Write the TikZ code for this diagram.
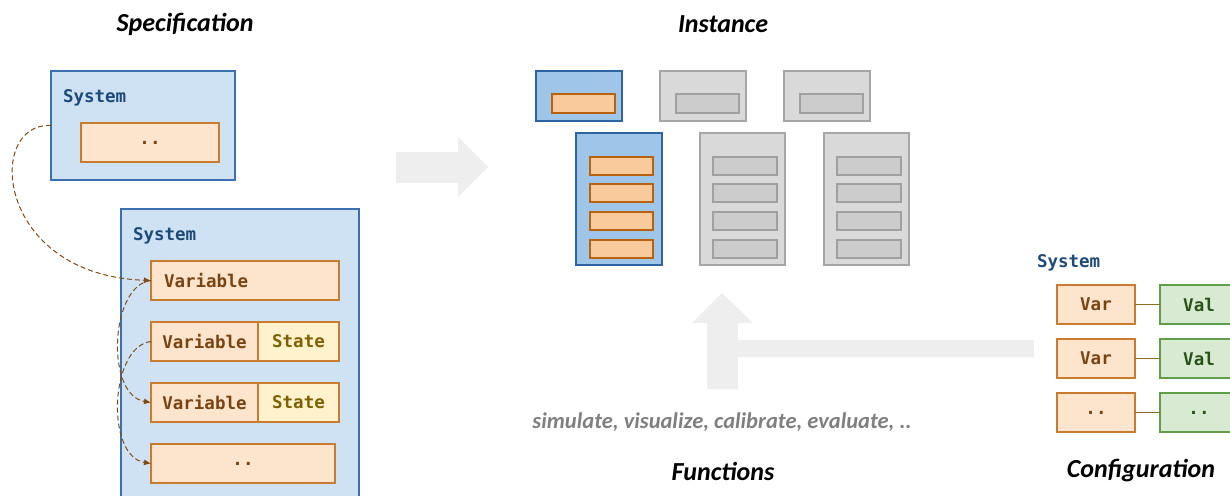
\documentclass[tikz,border=0pt]{standalone}
\usepackage{fontspec}
\setmainfont{Carlito}
\setmonofont{DejaVu Sans Mono}
\usetikzlibrary{arrows.meta}
\definecolor{sysfill}{HTML}{CFE2F3}
\definecolor{sysborder}{HTML}{3A6FB0}
\definecolor{varfill}{HTML}{FCE4CD}
\definecolor{varborder}{HTML}{C97B2E}
\definecolor{statefill}{HTML}{FFF2CC}
\definecolor{valfill}{HTML}{D9EAD3}
\definecolor{valborder}{HTML}{619E4A}
\definecolor{iblue}{HTML}{9FC5E8}
\definecolor{iblueborder}{HTML}{2F64A2}
\definecolor{iorange}{HTML}{F9CB9C}
\definecolor{iorangeborder}{HTML}{B8620F}
\definecolor{igray}{HTML}{D9D9D9}
\definecolor{igrayborder}{HTML}{A6A6A6}
\definecolor{igrayin}{HTML}{CCCCCC}
\definecolor{igrayinborder}{HTML}{A0A0A0}
\definecolor{arrowgray}{HTML}{EEEEEE}
\definecolor{systext}{HTML}{1C4A7A}
\definecolor{vartext}{HTML}{7A4412}
\definecolor{statetext}{HTML}{7F6000}
\definecolor{valtext}{HTML}{2A5218}
\definecolor{dashbrown}{HTML}{7F4B17}
\definecolor{linkcol}{HTML}{8C6D1F}
\definecolor{subgray}{HTML}{7F7F7F}
\newcommand{\monofont}{\ttfamily\bfseries\fontsize{17.5}{20}\selectfont}
\begin{document}
\begin{tikzpicture}[x=1pt,y=-1pt,
  every node/.style={inner sep=0pt, outer sep=0pt},
  bx/.style={line width=1.2pt},
  sysbox/.style={bx, fill=sysfill, draw=sysborder},
  varbox/.style={bx, fill=varfill, draw=varborder, text=vartext, font=\monofont},
  statebox/.style={bx, fill=statefill, draw=varborder, text=statetext, font=\monofont},
  valbox/.style={bx, fill=valfill, draw=valborder, text=valtext, font=\monofont},
  iblueb/.style={bx, fill=iblue, draw=iblueborder},
  iorangeb/.style={bx, fill=iorange, draw=iorangeborder},
  igrayb/.style={bx, fill=igray, draw=igrayborder},
  igrayinb/.style={bx, fill=igrayin, draw=igrayinborder},
  systxt/.style={text=systext, font=\monofont, anchor=base west},
  title/.style={font=\fontsize{26}{30}\selectfont\bfseries\itshape, text=black},
  dlink/.style={draw=dashbrown, line width=1pt, dashed, dash pattern=on 5pt off 3pt, -{Latex[length=7pt,width=6pt]}},
  cfglink/.style={draw=linkcol, line width=1.2pt}
]
\useasboundingbox (0,0) rectangle (1230,495);

% big gray arrows
\fill[arrowgray] (396,152) -- (458,152) -- (458,137) -- (488,167) -- (458,197) -- (458,183) -- (396,183) -- cycle;
\fill[arrowgray] (707,389) -- (707,323) -- (692,323) -- (722,293) -- (753,323) -- (738,323) -- (738,340) -- (1034,340) -- (1034,357) -- (738,357) -- (738,389) -- cycle;

% titles
\node[title] (tspec) at (185,24) {Specification};
\node[title] (tinst) at (723,24) {Instance};
\node[title] (tfunc) at (723,471) {Functions};
\node[title] (tconf) at (1141,471) {Configuration};
\node[font=\fontsize{22.5}{26}\selectfont\bfseries\itshape, text=subgray] (funcs) at (722,422) {simulate, visualize, calibrate, evaluate, ..};

% specification
\node[sysbox, minimum width=184pt, minimum height=109pt] (sys1) at (143,125.5) {};
\node[systxt] (sys1t) at (63,102) {System};
\node[varbox, minimum width=138pt, minimum height=39pt] (sys1in) at (150,142.5) {..};

\node[sysbox, minimum width=238pt, minimum height=300pt] (sys2) at (240,359) {};
\node[systxt] (sys2t) at (133,240) {System};
\node[varbox, minimum width=188pt, minimum height=39pt] (v1) at (245,280.5) {};
\node[text=vartext, font=\monofont, anchor=west] (v1t) at (164,280.5) {Variable};
\node[varbox, minimum width=107pt, minimum height=39pt] (v2) at (204.5,341.5) {Variable};
\node[statebox, minimum width=81pt, minimum height=39pt] (s2) at (298.5,341.5) {State};
\node[varbox, minimum width=107pt, minimum height=39pt] (v3) at (204.5,402.5) {Variable};
\node[statebox, minimum width=81pt, minimum height=39pt] (s3) at (298.5,402.5) {State};
\node[varbox, minimum width=184pt, minimum height=39pt] (v4) at (243,463.5) {..};

\draw[dlink] (sys1.west) .. controls (-15,122) and (-5,275) .. (v1.west);
\draw[dlink] (v1.west) .. controls (110,285) and (105,395) .. (v3.west);
\draw[dlink] (v2.west) .. controls (110,346) and (105,456) .. (v4.west);

% instance
\node[iblueb, minimum width=86pt, minimum height=50pt] (ia) at (579,96) {};
\node[iorangeb, minimum width=63pt, minimum height=19pt] (iain) at (583.5,103.5) {};
\node[igrayb, minimum width=86pt, minimum height=50pt] (ib) at (703,96) {};
\node[igrayinb, minimum width=63pt, minimum height=19pt] (ibin) at (707.5,103.5) {};
\node[igrayb, minimum width=86pt, minimum height=50pt] (ic) at (827,96) {};
\node[igrayinb, minimum width=63pt, minimum height=19pt] (icin) at (831.5,103.5) {};

\node[iblueb, minimum width=86pt, minimum height=132pt] (ta) at (619,199) {};
\node[igrayb, minimum width=85pt, minimum height=132pt] (tb) at (742.5,199) {};
\node[igrayb, minimum width=85pt, minimum height=132pt] (tc) at (866.5,199) {};
\foreach \yy [count=\i] in {166,193,221,249} {
  \node[iorangeb, minimum width=63pt, minimum height=18pt] (ta\i) at (621.5,\yy) {};
  \node[igrayinb, minimum width=64pt, minimum height=18pt] (tb\i) at (745,\yy) {};
  \node[igrayinb, minimum width=64pt, minimum height=18pt] (tc\i) at (869,\yy) {};
}

% configuration
\node[systxt] (cfgt) at (1037,267) {System};
\node[varbox, minimum width=78pt, minimum height=39pt] (cv1) at (1096,304.5) {Var};
\node[varbox, minimum width=78pt, minimum height=39pt] (cv2) at (1096,358.5) {Var};
\node[varbox, minimum width=78pt, minimum height=39pt] (cv3) at (1096,412.5) {..};
\node[valbox, minimum width=78pt, minimum height=39pt] (cl1) at (1199,304.5) {Val};
\node[valbox, minimum width=78pt, minimum height=39pt] (cl2) at (1199,358.5) {Val};
\node[valbox, minimum width=78pt, minimum height=39pt] (cl3) at (1199,412.5) {..};
\draw[cfglink] (cv1.east) -- (cl1.west);
\draw[cfglink] (cv2.east) -- (cl2.west);
\draw[cfglink] (cv3.east) -- (cl3.west);
\end{tikzpicture}
\end{document}
